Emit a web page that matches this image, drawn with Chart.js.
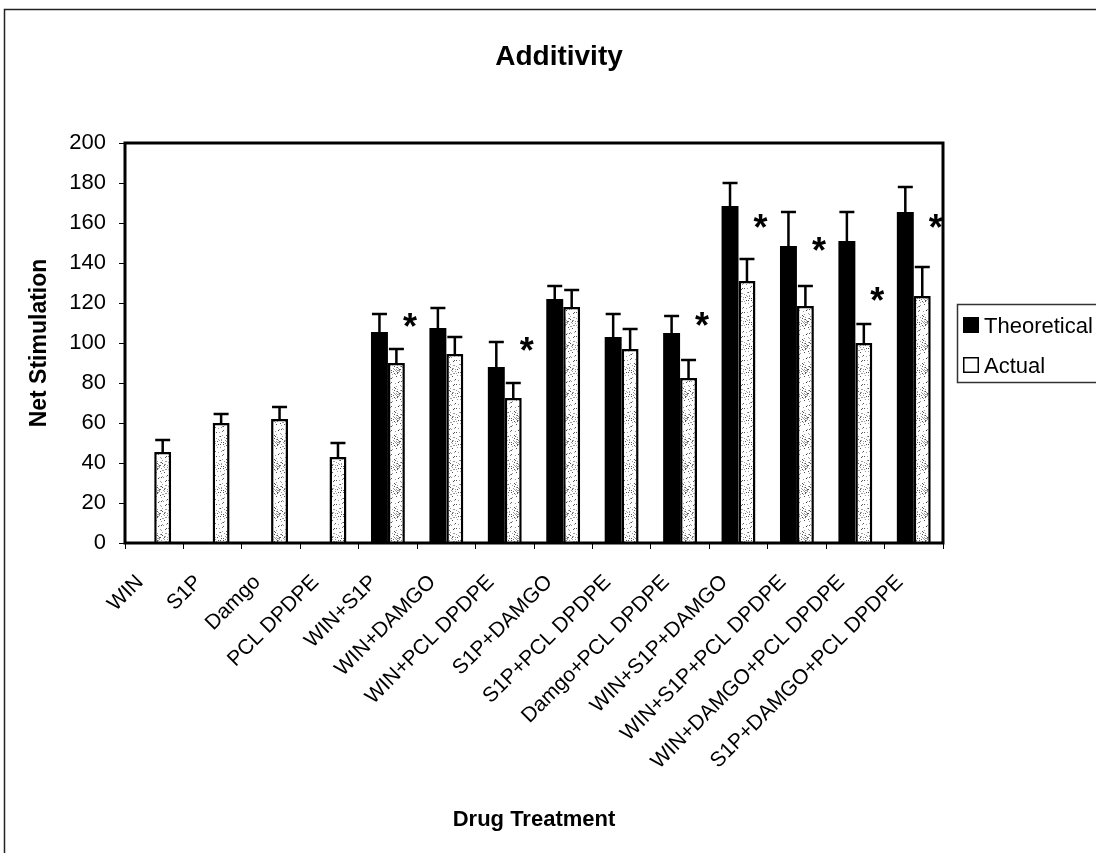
<!DOCTYPE html>
<html>
<head>
<meta charset="utf-8">
<title>Additivity</title>
<script src="https://cdn.jsdelivr.net/npm/chart.js@4.4.1/dist/chart.umd.min.js"></script>
<style>
  html, body { margin: 0; padding: 0; background: #fff; }
</style>
</head>
<body>
<canvas id="additivityChart" width="1096" height="853"></canvas>
<script>
const treatments = ['WIN', 'S1P', 'Damgo', 'PCL DPDPE', 'WIN+S1P', 'WIN+DAMGO', 'WIN+PCL DPDPE',
    'S1P+DAMGO', 'S1P+PCL DPDPE', 'Damgo+PCL DPDPE', 'WIN+S1P+DAMGO', 'WIN+S1P+PCL DPDPE',
    'WIN+DAMGO+PCL DPDPE', 'S1P+DAMGO+PCL DPDPE'];
const theoretical    = [null, null, null, null, 105.5, 107.5, 88, 122, 103, 105, 168.5, 148.5, 151, 165.5];
const theoreticalErr = [null, null, null, null, 9, 10, 12.5, 6.5, 11.5, 8.5, 11.5, 17, 14.5, 12.5];
const actual         = [45.5, 60, 62, 43, 90, 94.5, 72.5, 118, 97, 82.5, 131, 118.5, 100, 123.5];
const actualErr      = [6, 4.5, 6, 7, 7, 8.5, 7.5, 8.5, 10, 9, 11, 10, 9.5, 14.5];
// height of the "*" marks (significant difference), null where there is none
const stars = [null, null, null, null, 112.5, null, 100.5, null, null, 113, 162, 150.5, 125.5, 162];
const yTicks = [0, 20, 40, 60, 80, 100, 120, 140, 160, 180, 200];

const FONT = "'Liberation Sans', Arial, sans-serif";

// speckled grey fill for the "Actual" bars
function speckle() {
    const c = document.createElement('canvas');
    c.width = 24; c.height = 24;
    const g = c.getContext('2d');
    g.fillStyle = '#fff';
    g.fillRect(0, 0, 24, 24);
    for (let i = 0; i < 90; i++) {
        const x = (i * 17 + (i * i) % 7) % 24;
        const y = (i * 11 + (i * i * 3) % 13) % 24;
        g.fillStyle = i % 3 ? 'rgba(90,90,90,0.6)' : 'rgba(30,30,30,0.75)';
        g.fillRect(x, y, 1, 1);
    }
    return g.createPattern(c, 'repeat');
}

const errorBars = {
    id: 'errorBars',
    afterDatasetsDraw(chart) {
        const { ctx } = chart;
        const y = chart.scales.y;
        const errs = [theoreticalErr, actualErr];
        ctx.save();
        ctx.strokeStyle = '#000';
        ctx.lineWidth = 2.5;
        chart.data.datasets.forEach((ds, di) => {
            chart.getDatasetMeta(di).data.forEach((bar, i) => {
                const v = ds.data[i];
                if (v == null) return;
                const top = y.getPixelForValue(v + errs[di][i]);
                ctx.beginPath();
                ctx.moveTo(bar.x, bar.y);
                ctx.lineTo(bar.x, top);
                ctx.moveTo(bar.x - 7.5, top);
                ctx.lineTo(bar.x + 7.5, top);
                ctx.stroke();
            });
        });
        ctx.restore();
    }
};

const decorations = {
    id: 'decorations',
    afterDraw(chart) {
        const { ctx, chartArea: a } = chart;
        ctx.save();

        // outer border
        ctx.strokeStyle = '#222';
        ctx.lineWidth = 1.5;
        ctx.strokeRect(4.5, 9.5, 1200, 900);

        // plot frame
        ctx.strokeStyle = '#000';
        ctx.lineWidth = 3;
        ctx.strokeRect(a.left, a.top, a.right - a.left, a.bottom - a.top);

        // title
        ctx.fillStyle = '#000';
        ctx.font = 'bold 28px ' + FONT;
        ctx.textAlign = 'center';
        ctx.textBaseline = 'alphabetic';
        ctx.fillText('Additivity', 559, 65);

        // significance stars
        ctx.font = 'bold 36px ' + FONT;
        stars.forEach((s, i) => {
            if (s == null) return;
            const x = chart.scales.x.getPixelForValue(i) + 22;
            const yy = chart.scales.y.getPixelForValue(s);
            ctx.fillText('*', x, yy + 21);
        });

        // legend
        ctx.lineWidth = 1.5;
        ctx.strokeStyle = '#333';
        ctx.strokeRect(957.5, 304.5, 200, 78);
        ctx.fillStyle = '#000';
        ctx.fillRect(963, 317, 16, 16);
        ctx.lineWidth = 1.5;
        ctx.strokeStyle = '#000';
        ctx.strokeRect(963.75, 357.75, 14.5, 14.5);
        ctx.font = '22px ' + FONT;
        ctx.textAlign = 'left';
        ctx.fillText('Theoretical', 984, 333);
        ctx.fillText('Actual', 984, 373);

        ctx.restore();
    }
};

new Chart(document.getElementById('additivityChart'), {
    type: 'bar',
    data: {
        labels: treatments,
        datasets: [
            {
                label: 'Theoretical',
                data: theoretical,
                backgroundColor: '#000',
                borderColor: '#000',
                borderWidth: 0
            },
            {
                label: 'Actual',
                data: actual,
                backgroundColor: speckle(),
                borderColor: '#000',
                borderWidth: 2.5
            }
        ]
    },
    options: {
        responsive: false,
        animation: false,
        devicePixelRatio: 1,
        layout: { padding: { top: 143, right: 153, bottom: 0, left: 20 } },
        datasets: { bar: { categoryPercentage: 0.58, barPercentage: 1 } },
        plugins: {
            legend: { display: false },
            tooltip: { enabled: false },
            title: { display: false }
        },
        scales: {
            x: {
                grid: { drawOnChartArea: false, color: '#000', tickLength: 6, lineWidth: 1 },
                border: { display: false },
                ticks: {
                    color: '#000',
                    font: { family: FONT, size: 21 },
                    minRotation: 45,
                    maxRotation: 45,
                    autoSkip: false,
                    padding: 21,
                    labelOffset: -14
                },
                title: {
                    display: true,
                    text: 'Drug Treatment',
                    color: '#000',
                    font: { family: FONT, size: 22, weight: 'bold' },
                    padding: { top: 0, bottom: 20 }
                },
                afterFit(scale) { scale.height = 310; }
            },
            y: {
                min: 0,
                max: 200,
                afterBuildTicks(scale) { scale.ticks = yTicks.map(v => ({ value: v })); },
                grid: { drawOnChartArea: false, color: '#000', tickLength: 6, lineWidth: 1 },
                border: { display: false },
                ticks: {
                    color: '#000',
                    font: { family: FONT, size: 22 },
                    padding: 13
                },
                title: {
                    display: true,
                    text: 'Net Stimulation',
                    color: '#000',
                    font: { family: FONT, size: 23, weight: 'bold' },
                    padding: { top: 6, bottom: 0 }
                },
                afterFit(scale) { scale.width = 105; }
            }
        }
    },
    plugins: [errorBars, decorations]
});
</script>
</body>
</html>
